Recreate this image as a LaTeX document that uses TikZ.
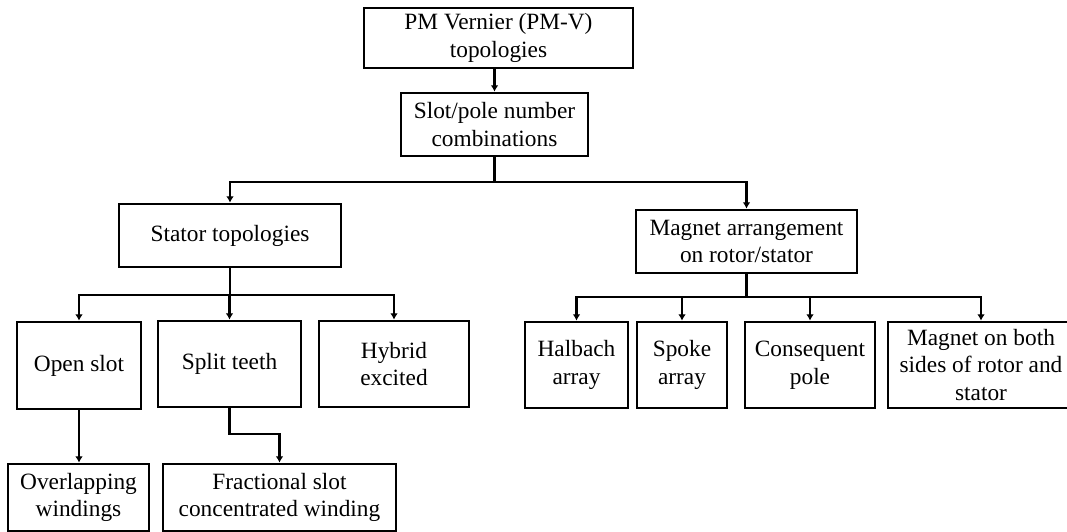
\documentclass[tikz,border=0pt]{standalone}
\usepackage{fontspec}
\setmainfont{Liberation Serif}
\usepackage{tikz}
\usetikzlibrary{positioning, arrows.meta}

\begin{document}
\begin{tikzpicture}[
    x=0.025cm, y=-0.025cm,
    box/.style={
        rectangle,
        draw,
        line width=2pt,
        align=center,
        inner sep=0pt,
        font=\fontsize{16.6}{19.6}\selectfont
    },
    wh/.style 2 args={
        minimum width=#1*0.025cm,
        minimum height=#2*0.025cm
    },
    arrow/.style={
        line width=2pt,
        -{Latex[length=4.5pt,width=5.5pt]}
    }
]
\useasboundingbox (0,0) rectangle (1067,532);

% Top levels
\node[box, wh={269}{60}] (pmv) at (498.5,38) {PM Vernier (PM-V)\\topologies};
\node[box, wh={187}{63}] (combo) at (494.5,124.5) {Slot/pole number\\combinations};

% Second level
\node[box, wh={222}{63}] (stator) at (230,235.5) {Stator topologies};
\node[box, wh={221}{63}] (magnet) at (746.5,241.5) {Magnet arrangement\\on rotor/stator};

% Stator branches
\node[box, wh={124}{87}] (open) at (79,365.5) {Open slot};
\node[box, wh={143}{86}] (split) at (229.5,364) {Split teeth};
\node[box, wh={150}{86}] (hybrid) at (394,364) {Hybrid\\excited};

% Winding types
\node[box, wh={141}{67}] (overlap) at (78.5,497.5) {Overlapping\\windings};
\node[box, wh={233}{67}] (frac) at (279.5,497.5) {Fractional slot\\concentrated winding};

% Magnet branches
\node[box, wh={103}{86}] (halbach) at (576.5,365) {Halbach\\array};
\node[box, wh={90}{86}] (spoke) at (682,365) {Spoke\\array};
\node[box, wh={130}{86}] (conseq) at (810,365) {Consequent\\pole};
\node[box, wh={186}{86}] (both) at (981,365) {Magnet on both\\sides of rotor and\\stator};

% Bus levels
\coordinate (bus1) at (0,182);
\coordinate (bus2) at (0,295);
\coordinate (bus3) at (0,297);
\coordinate (elbow) at (0,434);

% Arrows
\draw[arrow] (pmv.south -| combo.north) -- (combo.north);

\draw[arrow] (combo.south) -- (combo.south |- bus1) -| (stator.north);
\draw[arrow] (combo.south |- bus1) -| (magnet.north);

\foreach \n in {open, split, hybrid}
    \draw[arrow] (stator.south) -- (stator.south |- bus2) -| (\n.north);

\foreach \n in {halbach, spoke, conseq, both}
    \draw[arrow] (magnet.south) -- (magnet.south |- bus3) -| (\n.north);

\draw[arrow] (open.south) -- (open.south |- overlap.north);
\draw[arrow] (split.south) -- (split.south |- elbow) -| (frac.north);

\end{tikzpicture}
\end{document}
